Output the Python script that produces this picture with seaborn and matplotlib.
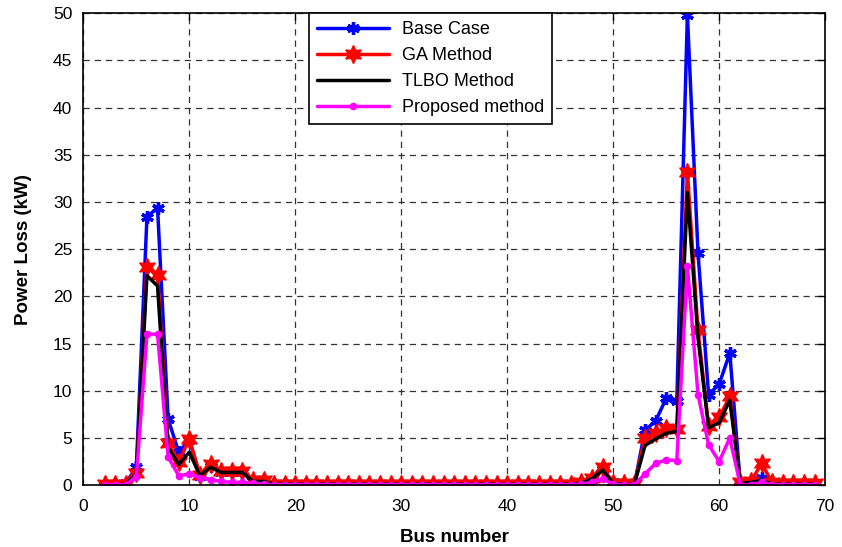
import numpy as np
import pandas as pd
import matplotlib
matplotlib.use("Agg")
import matplotlib.pyplot as plt
import seaborn as sns

buses = list(range(2, 70))
mid = [0.1] * 28  # buses 18-45

base_case = ([0.05, 0.1, 0.2, 1.9, 28.4, 29.4, 7.0, 3.5, 4.8, 1.0, 2.0, 1.4, 1.4, 1.4, 0.4, 0.5]
             + mid
             + [0.1, 0.2, 0.7, 1.7, 0.3, 0.1, 0.1, 5.8, 6.8, 9.2, 8.9, 49.8, 24.6, 9.6, 10.7, 14.0,
                0.05, 0.1, 0.8, 0.1, 0.1, 0.1, 0.1, 0.1])
ga_method = ([0.1, 0.1, 0.1, 1.3, 23.1, 22.3, 4.5, 2.5, 4.9, 1.1, 2.2, 1.5, 1.5, 1.5, 0.5, 0.5]
             + [0.15] * 28
             + [0.1, 0.3, 0.8, 1.9, 0.2, 0.2, 0.1, 5.0, 5.5, 6.1, 6.0, 33.2, 16.4, 6.3, 7.2, 9.4,
                0.3, 0.4, 2.3, 0.3, 0.2, 0.2, 0.2, 0.2])
tlbo_method = ([0.05, 0.05, 0.1, 1.2, 22.2, 21.1, 4.0, 2.2, 3.5, 1.0, 1.9, 1.35, 1.35, 1.35, 0.4, 0.4]
               + mid
               + [0.1, 0.2, 0.7, 1.6, 0.2, 0.1, 0.1, 4.2, 4.9, 5.5, 5.7, 31.0, 15.6, 6.1, 6.6, 9.0,
                  0.2, 0.3, 0.5, 0.1, 0.1, 0.1, 0.1, 0.1])
proposed = ([0.05, 0.05, 0.05, 0.9, 16.0, 16.0, 3.0, 1.0, 1.2, 0.8, 0.6, 0.4, 0.3, 0.3, 0.2, 0.1]
            + [0.05] * 28
            + [0.05, 0.1, 0.3, 0.7, 0.1, 0.05, 0.05, 1.2, 2.3, 2.7, 2.6, 23.2, 9.6, 4.3, 2.5, 5.0,
               0.0, 0.05, 0.3, 0.05, 0.05, 0.05, 0.05, 0.05])

series_names = ["Base Case", "GA Method", "TLBO Method", "Proposed method"]
series_values = [base_case, ga_method, tlbo_method, proposed]

sns.set_style("white")
plt.rcParams['font.family'] = ['Liberation Sans', 'DejaVu Sans']
plt.rcParams['text.color'] = 'black'
plt.rcParams['axes.labelcolor'] = 'black'
plt.rcParams['xtick.color'] = 'black'
plt.rcParams['ytick.color'] = 'black'

fig = plt.figure(figsize=(8.42, 5.47), dpi=100)
ax = fig.add_axes([0.099, 0.113, 0.881, 0.863])

styles = {
    "Base Case": dict(color="#0000ff", marker=(6, 2, 0), markersize=9, markeredgewidth=2.4,
                      markeredgecolor="#0000ff"),
    "GA Method": dict(color="#ff0000", marker=(6, 1, 0), markersize=13, markeredgewidth=1.0,
                      markeredgecolor="#ff0000", markerfacecolor="#ff0000"),
    "TLBO Method": dict(color="black", marker=None),
    "Proposed method": dict(color="#ff00ff", marker="o", markersize=5.5, markeredgewidth=0,
                            markerfacecolor="#ff00ff"),
}

for name, vals in zip(series_names, series_values):
    df = pd.DataFrame({"bus": buses, "loss": vals})
    sns.lineplot(data=df, x="bus", y="loss", ax=ax, label=name, linewidth=2.5,
                 estimator=None, **styles[name])

ax.set_xlim(0, 70)
ax.set_ylim(0, 50)
ax.set_xticks(range(0, 71, 10))
ax.set_yticks(range(0, 51, 5))
ax.grid(True, color="#333333", linestyle=(0, (5, 4)), linewidth=0.9)
for s in ax.spines.values():
    s.set_color("black")
    s.set_linewidth(1.2)
ax.tick_params(direction="in", top=True, right=True, length=5, width=1,
               labelsize=12.5, colors="black", labelcolor="black")
ax.tick_params(axis="x", pad=10)
ax.tick_params(axis="y", pad=8)
ax.set_xlabel("Bus number", fontsize=13.5, fontweight="bold", labelpad=11, color="black")
ax.set_ylabel("Power Loss (kW)", fontsize=13.5, fontweight="bold", labelpad=15, color="black")

leg = ax.legend(loc="upper left", bbox_to_anchor=(0.304, 1.0), fontsize=13,
                frameon=True, fancybox=False, handlelength=4.0, borderpad=0.45,
                labelspacing=0.5, handletextpad=0.7, borderaxespad=0)
leg.get_frame().set_edgecolor("black")
leg.get_frame().set_linewidth(1.2)
leg.get_frame().set_alpha(1)
for t in leg.get_texts():
    t.set_color("black")

fig.savefig("out.png", dpi=100)
